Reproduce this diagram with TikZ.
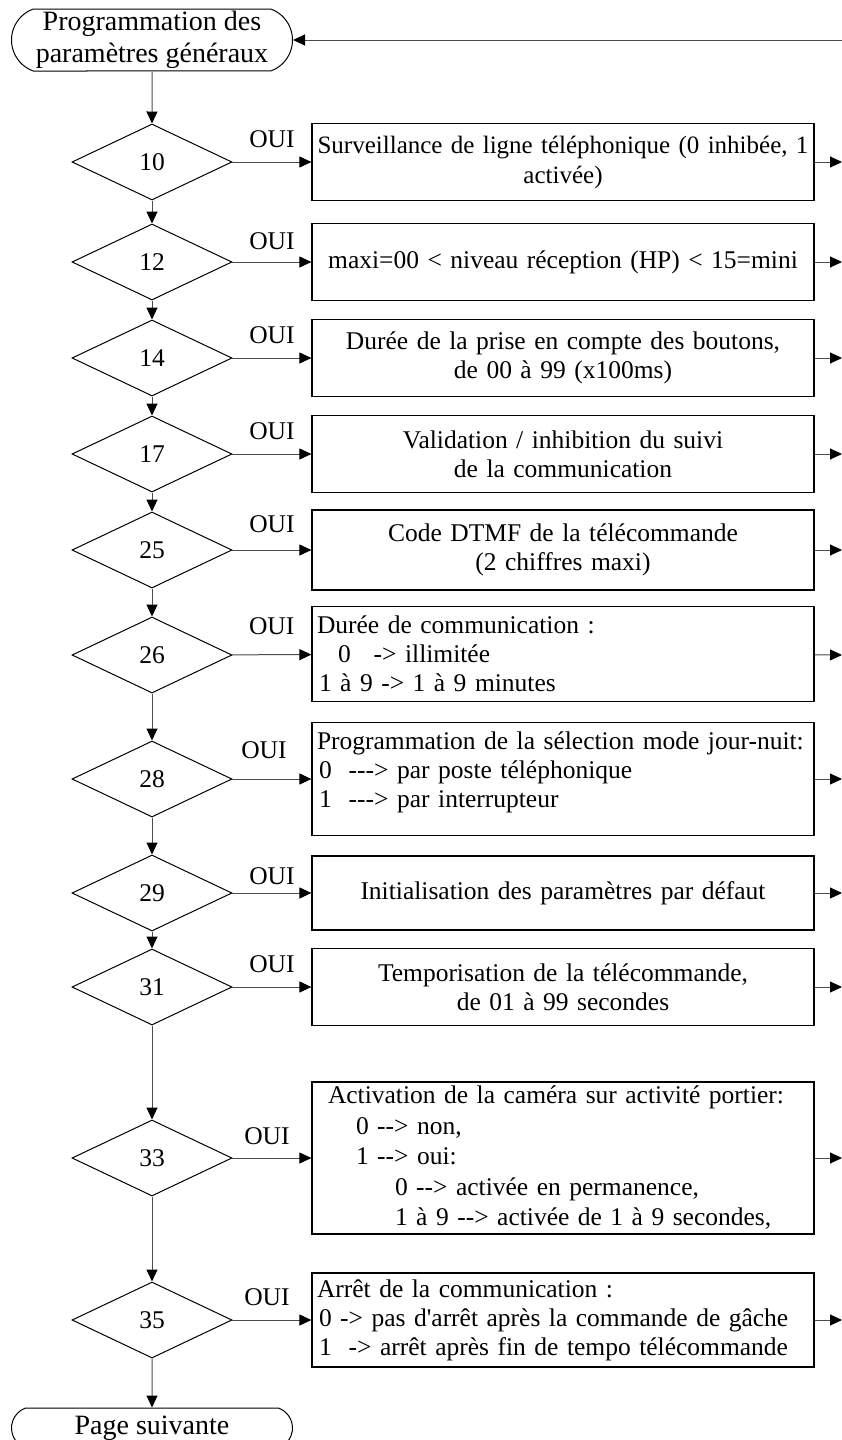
\documentclass[tikz,border=0pt]{standalone}
\usepackage{fontspec}
\setmainfont{Liberation Serif}[Ligatures=TeXOff]
\usetikzlibrary{shapes.geometric,shapes.misc,arrows.meta}

\begin{document}
\begin{tikzpicture}[x=1pt,y=-1pt,font=\fontsize{25.5}{29}\selectfont,
    test/.style={draw, line width=1pt, diamond, aspect=2.1, minimum width=160pt, minimum height=76pt, inner sep=0pt},
    action/.style={draw, line width=1.2pt, rectangle, text width=498pt, inner sep=2pt, align=center},
    terminal/.style={draw, line width=1pt, rounded rectangle, rounded rectangle arc length=140, minimum width=281pt, inner sep=0pt, align=center, font=\fontsize{28}{32}\selectfont},
    flow/.style={draw=black!70, line width=1pt, -{Triangle[length=12pt,width=11pt,black]}},
    oui/.style={above, yshift=#1}, oui/.default=10pt]
    \useasboundingbox (0,0) rectangle (842,1440);

    % start / end
    \node[terminal, minimum height=62pt] (start) at (152,40) {Programmation des\\paramètres généraux};
    \node[terminal, minimum height=40pt] (end) at (152,1428) {Page suivante};

    % tests
    \node[test] (d10) at (152,162) {10};
    \node[test] (d12) at (152,262) {12};
    \node[test] (d14) at (152,358) {14};
    \node[test] (d17) at (152,454) {17};
    \node[test] (d25) at (152,550) {25};
    \node[test] (d26) at (152,655) {26};
    \node[test] (d28) at (152,779) {28};
    \node[test] (d29) at (152,893) {29};
    \node[test] (d31) at (152,987) {31};
    \node[test] (d33) at (152,1158) {33};
    \node[test] (d35) at (152,1320) {35};

    % actions
    \node[action, minimum height=77pt, font=\fontsize{25}{30}\selectfont] (b10) at (563,162) {\mbox{Surveillance de ligne téléphonique (0 inhibée, 1}\\activée)};
    \node[action, minimum height=77pt] (b12) at (563,262) {maxi=00 < niveau réception (HP) < 15=mini};
    \node[action, minimum height=77pt] (b14) at (563,358) {Durée de la prise en compte des boutons,\\de 00 à 99 (x100ms)};
    \node[action, minimum height=77pt] (b17) at (563,454) {Validation / inhibition du suivi\\de la communication};
    \node[action, minimum height=80pt] (b25) at (563,550) {Code DTMF de la télécommande\\(2 chiffres maxi)};
    \node[action, align=left, minimum height=95pt] (b26) at (563,654) {\hspace*{3pt}Durée de communication :\\
        \hspace*{24pt}0\hspace*{23pt}-> illimitée\\
        \hspace*{5pt}1 à 9 -> 1 à 9 minutes};
    \node[action, align=left, minimum height=113pt] (b28) at (563,779) {\hspace*{3pt}Programmation de la sélection mode jour-nuit:\\
        \hspace*{5pt}0~~---> par poste téléphonique\\
        \hspace*{5pt}1~~---> par interrupteur\\[-10pt]\mbox{}};
    \node[action, minimum height=74pt] (b29) at (563,893) {Initialisation des paramètres par défaut};
    \node[action, minimum height=77pt] (b31) at (563,987) {Temporisation de la télécommande,\\de 01 à 99 secondes};
    \node[action, align=left, minimum height=152pt, font=\fontsize{25.5}{30.5}\selectfont] (b33) at (563,1158) {\hspace*{14pt}Activation de la caméra sur activité portier:\\
        \hspace*{42pt}0 --> non,\\
        \hspace*{42pt}1 --> oui:\\
        \hspace*{81pt}0 --> activée en permanence,\\
        \hspace*{81pt}1 à 9 --> activée de 1 à 9 secondes,};
    \node[action, align=left, minimum height=94pt] (b35) at (563,1320) {\hspace*{3pt}Arrêt de la communication :\\
        \hspace*{5pt}0 -> pas d'arrêt après la commande de gâche\\
        \hspace*{5pt}1~~-> arrêt après fin de tempo télécommande};

    % return points on the right
    \coordinate (back) at (842,40);
    \coordinate (r10) at (842,162);
    \coordinate (r12) at (842,262);
    \coordinate (r14) at (842,358);
    \coordinate (r17) at (842,454);
    \coordinate (r25) at (842,550);
    \coordinate (r26) at (842,655);
    \coordinate (r28) at (842,779);
    \coordinate (r29) at (842,893);
    \coordinate (r31) at (842,987);
    \coordinate (r33) at (842,1158);
    \coordinate (r35) at (842,1320);

    % main line
    \draw[flow] (back) -- (start.east);
    \draw[flow] (start) -- (d10);
    \draw[flow] (d10) -- (d12);
    \draw[flow] (d12) -- (d14);
    \draw[flow] (d14) -- (d17);
    \draw[flow] (d17) -- (d25);
    \draw[flow] (d25) -- (d26);
    \draw[flow] (d26) -- (d28);
    \draw[flow] (d28) -- (d29);
    \draw[flow] (d29) -- (d31);
    \draw[flow] (d31) -- (d33);
    \draw[flow] (d33) -- (d35);
    \draw[flow] (d35) -- (end);

    % OUI branches
    \draw[flow] (d10) -- node[oui]{OUI} (b10);
    \draw[flow] (d12) -- node[oui=8pt]{OUI} (b12);
    \draw[flow] (d14) -- node[oui]{OUI} (b14);
    \draw[flow] (d17) -- node[oui]{OUI} (b17);
    \draw[flow] (d25) -- node[oui=13pt]{OUI} (b25);
    \draw[flow] (d26) -- node[oui=16pt]{OUI} (b26);
    \draw[flow] (d28) -- node[oui=16pt, xshift=-8pt]{OUI} (b28);
    \draw[flow] (d29) -- node[oui=4pt]{OUI} (b29);
    \draw[flow] (d31) -- node[oui]{OUI} (b31);
    \draw[flow] (d33) -- node[oui=9pt, xshift=-5pt]{OUI} (b33);
    \draw[flow] (d35) -- node[oui, xshift=-5pt]{OUI} (b35);

    \draw[flow] (b10) -- (r10);
    \draw[flow] (b12) -- (r12);
    \draw[flow] (b14) -- (r14);
    \draw[flow] (b17) -- (r17);
    \draw[flow] (b25) -- (r25);
    \draw[flow] (b26) -- (r26);
    \draw[flow] (b28) -- (r28);
    \draw[flow] (b29) -- (r29);
    \draw[flow] (b31) -- (r31);
    \draw[flow] (b33) -- (r33);
    \draw[flow] (b35) -- (r35);
\end{tikzpicture}
\end{document}
